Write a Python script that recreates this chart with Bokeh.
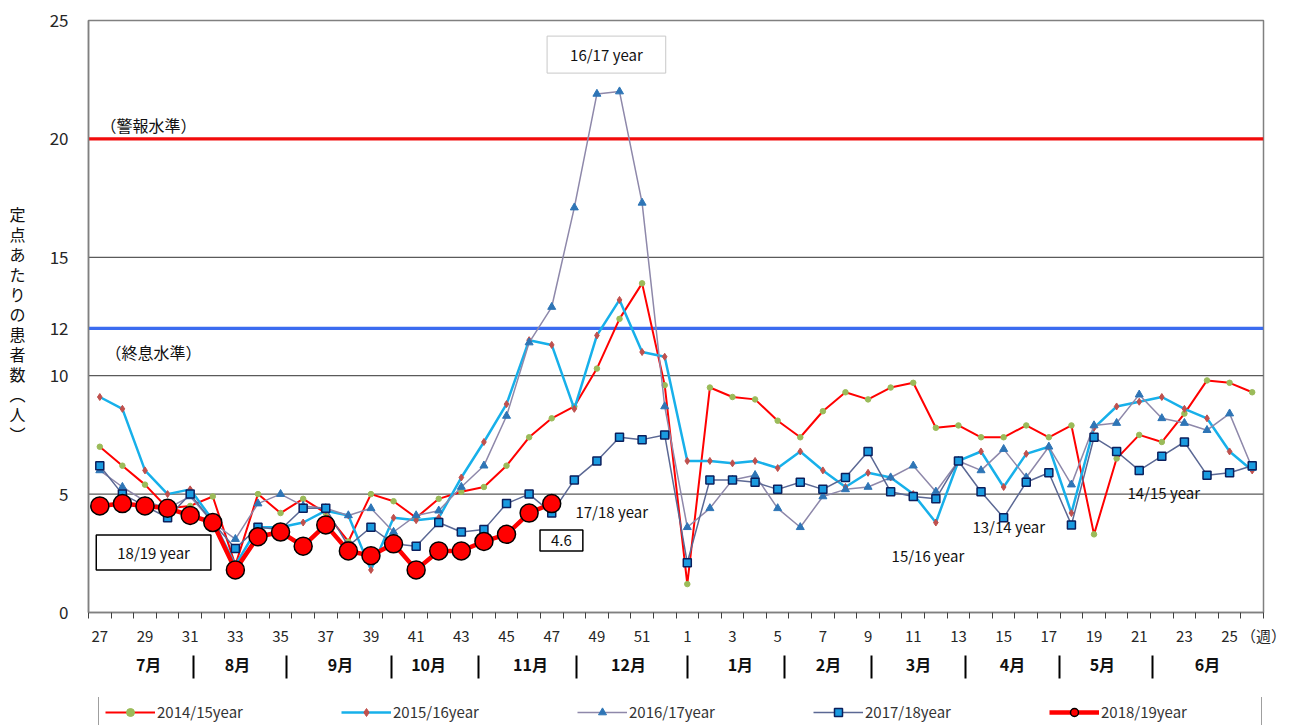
from bokeh.plotting import figure
from bokeh.layouts import column
from bokeh.models import Range1d, FixedTicker, Span, Label, Legend, LegendItem, LinearAxis
from bokeh.embed import file_html
from bokeh.resources import INLINE

# ---------------- data ----------------
weeks = list(range(27, 53)) + list(range(1, 27))

s1415 = [7.0, 6.2, 5.4, 4.4, 4.5, 4.9, 2.0, 5.0, 4.2, 4.8, 4.2, 3.0, 5.0, 4.7, 4.0, 4.8, 5.1, 5.3, 6.2, 7.4,
         8.2, 8.7, 10.3, 12.4, 13.9, 9.6,
         1.2, 9.5, 9.1, 9.0, 8.1, 7.4, 8.5, 9.3, 9.0, 9.5, 9.7, 7.8, 7.9, 7.4, 7.4, 7.9, 7.4, 7.9, 3.3, 6.5,
         7.5, 7.2, 8.4, 9.8, 9.7, 9.3]
s1516 = [9.1, 8.6, 6.0, 5.0, 5.2, 3.9, 2.0, 3.6, 3.6, 3.8, 4.3, 4.1, 1.8, 4.0, 3.9, 4.0, 5.7, 7.2, 8.8, 11.5,
         11.3, 8.6, 11.7, 13.2, 11.0, 10.8,
         6.4, 6.4, 6.3, 6.4, 6.1, 6.8, 6.0, 5.3, 5.9, 5.7, 5.0, 3.8, 6.4, 6.8, 5.3, 6.7, 7.0, 4.2, 7.8, 8.7,
         8.9, 9.1, 8.6, 8.2, 6.8, 6.0]
s1617 = [6.0, 5.3, 4.7, 4.4, 4.9, 3.8, 3.1, 4.6, 5.0, 4.5, 4.4, 4.1, 4.4, 3.4, 4.1, 4.3, 5.3, 6.2, 8.3, 11.4,
         12.9, 17.1, 21.9, 22.0, 17.3, 8.7,
         3.6, 4.4, 5.6, 5.8, 4.4, 3.6, 4.9, 5.2, 5.3, 5.7, 6.2, 5.1, 6.4, 6.0, 6.9, 5.7, 7.0, 5.4, 7.9, 8.0,
         9.2, 8.2, 8.0, 7.7, 8.4, 6.1]
s1718 = [6.2, 5.0, 4.5, 4.0, 5.0, 3.8, 2.7, 3.6, 3.5, 4.4, 4.4, 2.8, 3.6, 2.9, 2.8, 3.8, 3.4, 3.5, 4.6, 5.0,
         4.2, 5.6, 6.4, 7.4, 7.3, 7.5,
         2.1, 5.6, 5.6, 5.5, 5.2, 5.5, 5.2, 5.7, 6.8, 5.1, 4.9, 4.8, 6.4, 5.1, 4.0, 5.5, 5.9, 3.7, 7.4, 6.8,
         6.0, 6.6, 7.2, 5.8, 5.9, 6.2]
s1819 = [4.5, 4.6, 4.5, 4.4, 4.1, 3.8, 1.8, 3.2, 3.4, 2.8, 3.7, 2.6, 2.4, 2.9, 1.8, 2.6, 2.6, 3.0, 3.3, 4.2, 4.6]

series_names = ["2014/15year", "2015/16year", "2016/17year", "2017/18year", "2018/19year"]
y_ticks = [0, 5, 10, 12, 15, 20, 25]
grid_levels = [5, 10, 15]
alert_level = 20     # 警報水準
end_level = 12       # 終息水準
months = ["7月", "8月", "9月", "10月", "11月", "12月", "1月", "2月", "3月", "4月", "5月", "6月"]
title_text = "定点あたりの感染性胃腸炎患者報告数"
y_label = "定点あたりの患者数︵人︶"
week_unit = "（週）"

# ---------------- layout constants ----------------
month_pos = [2.16, 6.09, 10.65, 14.55, 19.06, 23.4, 28.35, 32.25, 36.23, 40.39, 44.37, 49.02]
sep_pos = [4.15, 8.26, 12.91, 16.76, 21.1, 26.0, 30.3, 34.15, 38.31, 42.47, 46.59]
PX_PER_UNIT = 592 / 25.0
ylab_pos = [(399 - 20 * k) / PX_PER_UNIT for k in range(len(y_label))]   # one upright char per slot

FONT = "Noto Sans CJK JP"
x = list(range(len(weeks)))
x_end = len(weeks) - 0.5

# series styles (shared by the plot and the legend strip)
styles = [
    (dict(line_color="#ff0000", line_width=2),
     dict(marker="circle", size=5.5, fill_color="#9bbb59", line_color="#9bbb59")),
    (dict(line_color="#17b0ea", line_width=2.5),
     dict(marker="diamond", size=7, fill_color="#c0504d", line_color="#c0504d")),
    (dict(line_color="#8e88aa", line_width=1.5),
     dict(marker="triangle", size=8, fill_color="#2e75b6", line_color="#2e75b6")),
    (dict(line_color="#5b6894", line_width=1.5),
     dict(marker="square", size=8, fill_color="#1a9be0", line_color="#0b1f5c", line_width=1.5)),
    (dict(line_color="#ff0000", line_width=4.5),
     dict(marker="circle", size=18, fill_color="#ff0000", line_color="#000000", line_width=1.5)),
]
all_series = [s1415, s1516, s1617, s1718, s1819]

p = figure(width=1314, height=697, x_range=Range1d(-0.5, x_end), y_range=Range1d(0, 25),
           output_backend="svg", toolbar_location=None,
           min_border_left=88, min_border_right=51, min_border_top=20, min_border_bottom=85)
p.grid.visible = False
p.outline_line_color = "#808080"
p.outline_line_width = 1.5

# x axis (weeks) + unit label at the right end
xa = p.xaxis[0]
xa.ticker = FixedTicker(ticks=[i for i in x if i % 2 == 0] + [x_end],
                        minor_ticks=[i - 0.5 for i in range(len(x) + 1)])
overrides = {i: str(w) for i, w in zip(x, weeks)}
overrides[x_end] = week_unit
xa.major_label_overrides = overrides
xa.major_tick_out = 0
xa.major_tick_in = 0
xa.minor_tick_out = 6
xa.minor_tick_in = 0
xa.minor_tick_line_color = "#404040"
xa.axis_line_color = "#808080"
xa.axis_line_width = 1.5
xa.major_label_standoff = 6
xa.major_label_text_font = FONT
xa.major_label_text_font_size = "15px"
xa.major_label_text_color = "#262626"

# month labels
ma = LinearAxis(ticker=FixedTicker(ticks=month_pos, minor_ticks=[]),
                major_label_overrides={mp: m for mp, m in zip(month_pos, months)})
ma.axis_line_color = None
ma.major_tick_line_color = None
ma.major_tick_out = 0
ma.major_tick_in = 0
ma.minor_tick_out = 0
ma.major_label_standoff = 3
ma.major_label_text_font = FONT
ma.major_label_text_font_size = "16px"
ma.major_label_text_font_style = "bold"
ma.major_label_text_color = "#111111"
p.add_layout(ma, "below")

# month separators (ticks pointing up from a hidden axis line)
sa = LinearAxis(ticker=FixedTicker(ticks=[], minor_ticks=sep_pos))
sa.axis_line_color = None
sa.major_tick_line_color = None
sa.major_tick_out = 0
sa.major_tick_in = 0
sa.minor_tick_in = 23
sa.minor_tick_out = 0
sa.minor_tick_line_color = "#000000"
sa.minor_tick_line_width = 2
sa.major_label_standoff = 0
p.add_layout(sa, "below")

# y axis
ya = p.yaxis[0]
ya.ticker = FixedTicker(ticks=y_ticks, minor_ticks=[])
ya.major_tick_line_color = None
ya.minor_tick_line_color = None
ya.major_tick_out = 0
ya.axis_line_color = "#808080"
ya.axis_line_width = 1.5
ya.major_label_standoff = 20
ya.major_label_text_font = FONT
ya.major_label_text_font_size = "17px"
ya.major_label_text_color = "#262626"

# vertical (upright) y-axis title
yl = LinearAxis(ticker=FixedTicker(ticks=ylab_pos, minor_ticks=[]),
                major_label_overrides={v: c for v, c in zip(ylab_pos, y_label)})
yl.axis_line_color = None
yl.major_tick_line_color = None
yl.major_tick_out = 0
yl.major_tick_in = 0
yl.major_label_standoff = 21
yl.major_label_text_font = FONT
yl.major_label_text_font_size = "16px"
yl.major_label_text_color = "#111111"
p.add_layout(yl, "left")

# grid / threshold lines
for g in grid_levels:
    p.add_layout(Span(location=g, dimension="width", line_color="#5a5a5a", line_width=1.2, level="underlay"))
p.add_layout(Span(location=alert_level, dimension="width", line_color="#f20c0c", line_width=3.2, level="underlay"))
p.add_layout(Span(location=end_level, dimension="width", line_color="#3b6cf0", line_width=3.2, level="underlay"))

# series
for ys, (ls, ms) in zip(all_series, styles):
    xs = x[:len(ys)]
    p.line(xs, ys, **ls)
    p.scatter(xs, ys, **ms)


def lab(xv, yv, t, size="15px", align="left", baseline="middle", style="normal", **kw):
    p.add_layout(Label(x=xv, y=yv, text=t, text_font=FONT, text_font_size=size, text_align=align,
                       text_baseline=baseline, text_font_style=style, text_color="#111111", **kw))


# texts inside / above the frame
lab(24.9, 25.68, title_text, size="26px", align="center", baseline="alphabetic", style="bold")
lab(0.03, 20.6, "（警報水準）", size="16px")
lab(0.25, 11.02, "（終息水準）", size="16px")
lab(22.42, 23.56, "16/17 year", align="center", border_line_color="#c8c8c8", border_line_width=1,
    background_fill_color="white", padding=(23, 8))
lab(2.38, 2.53, "18/19 year", align="center", border_line_color="#000000", border_line_width=1.5,
    background_fill_color="white", padding=(21, 7))
lab(20.43, 3.04, "4.6", align="center", border_line_color="#000000", border_line_width=1.5,
    background_fill_color="white", padding=(11, 5))
lab(21.05, 4.27, "17/18 year")
lab(35.04, 2.41, "15/16 year")
lab(38.62, 3.63, "13/14 year")
lab(45.48, 5.07, "14/15 year")

# ---------------- legend strip (bottom, cut by the window like the reference) ----------------
# the series are drawn here outside the visible range only so that the legend has its glyphs
lf = figure(width=1314, height=28, x_range=Range1d(0, 1), y_range=Range1d(-2, -1),
            output_backend="svg", toolbar_location=None, x_axis_location=None, y_axis_location=None,
            min_border_left=88, min_border_right=51, min_border_top=0, min_border_bottom=0)
lf.grid.visible = False
lf.outline_line_color = None
items = []
for name, ys, (ls, ms) in zip(series_names, all_series, styles):
    xs = x[:len(ys)]
    r1 = lf.line(xs, ys, **ls)
    r2 = lf.scatter(xs, ys, **ms)
    items.append(LegendItem(label=name, renderers=[r1, r2]))
legend = Legend(items=items, orientation="horizontal", location=(10, -4), margin=0, padding=6, spacing=30,
                glyph_width=50, glyph_height=20, label_height=20, label_standoff=2, label_width=154,
                border_line_color="#404040", border_line_width=1.2, background_fill_color="white",
                label_text_font=FONT, label_text_font_size="15px", label_text_color="#333333")
lf.add_layout(legend)

layout = column(p, lf, spacing=0)
open("out.html", "w").write(file_html(layout, INLINE))
